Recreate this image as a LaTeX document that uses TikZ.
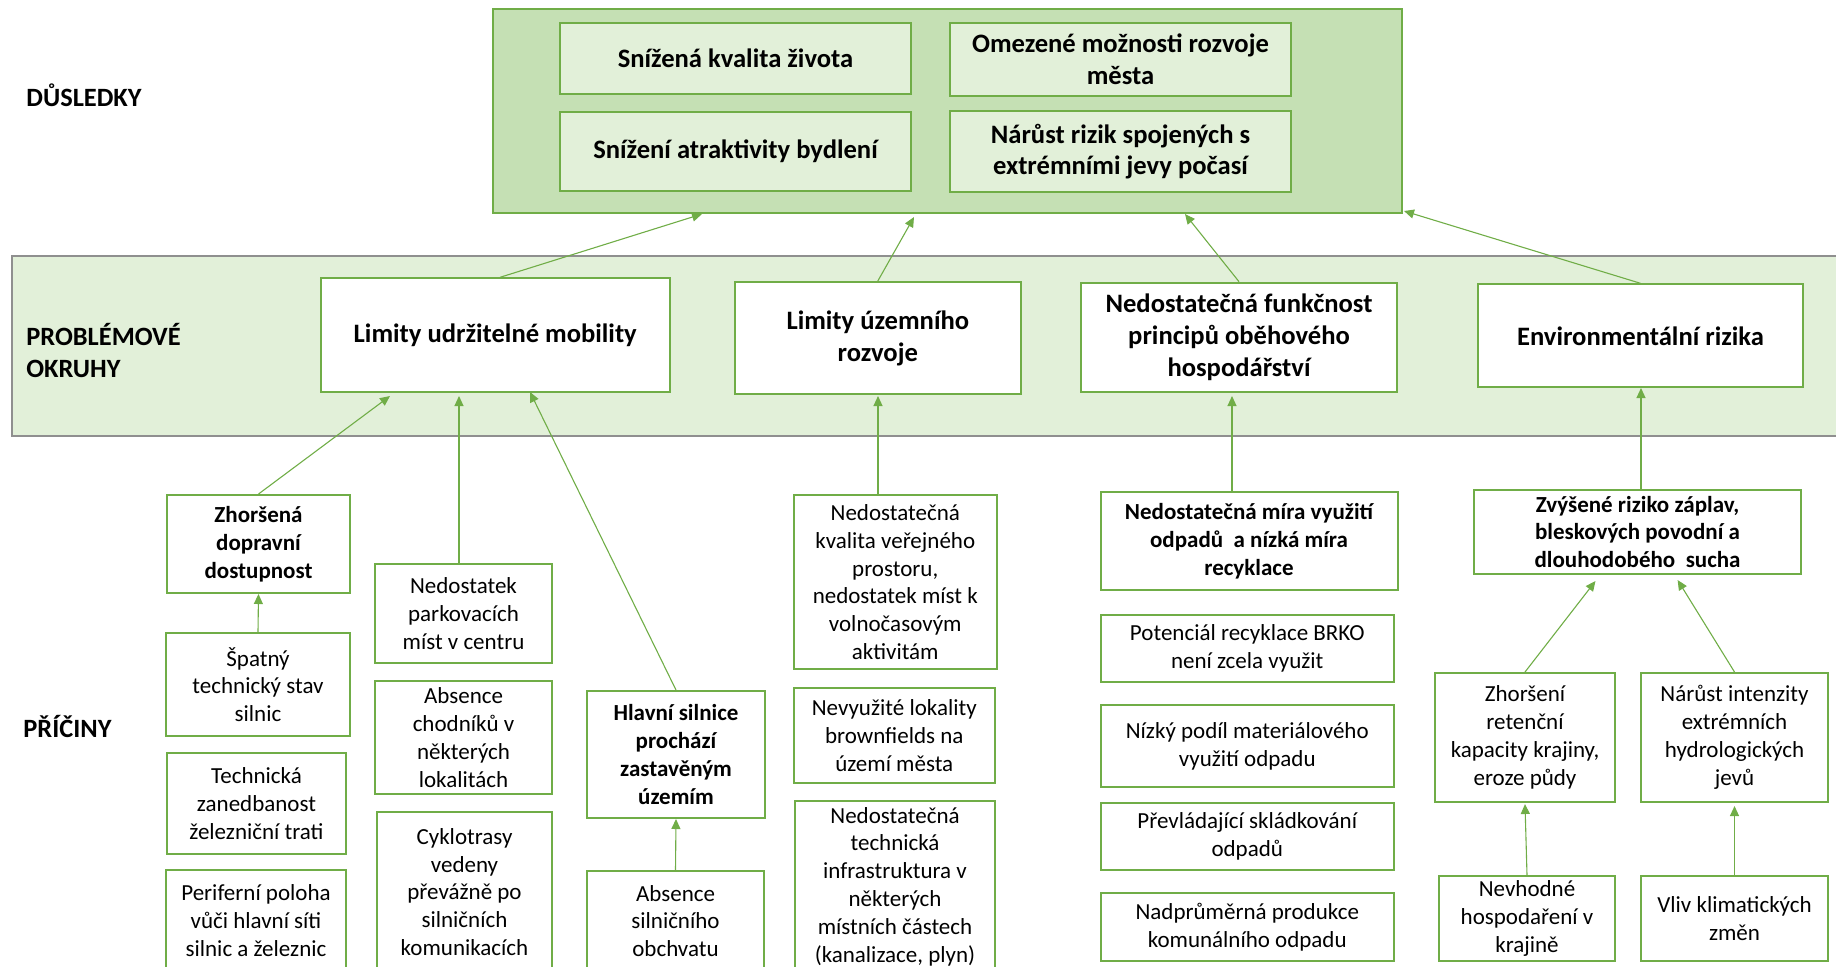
\documentclass[tikz,border=0pt]{standalone}
\usepackage{fontspec}
\setmainfont{Carlito}
\usetikzlibrary{arrows.meta,calc}
\definecolor{grn}{HTML}{70AD47}
\definecolor{dfill}{HTML}{C5E0B4}
\definecolor{lfill}{HTML}{E2F0D9}
\definecolor{bandgray}{HTML}{8F8F8F}
\newcommand\bx[7]{%
  \node[#1, minimum width={(#5-#3)*0.5pt}, minimum height={(#6-#4)*0.5pt}] (#2) at ({(#3+#5)/2},{(#4+#6)/2}) {#7};}
\tikzset{
  topbox/.style={draw=grn, fill=lfill, line width=1pt, inner sep=0pt, align=center, font=\fontsize{13.3}{15.8}\selectfont\bfseries},
  probbox/.style={draw=grn, fill=white, line width=1pt, inner sep=0pt, align=center, font=\fontsize{13.3}{16.1}\selectfont\bfseries},
  causebox/.style={draw=grn, fill=white, line width=1pt, inner sep=0pt, align=center, font=\fontsize{11.5}{13.9}\selectfont},
  causebold/.style={causebox, font=\fontsize{11.5}{13.9}\selectfont\bfseries},
  lbl/.style={anchor=west, inner sep=0pt, align=left, font=\fontsize{13.2}{16}\selectfont\bfseries},
  arr/.style={draw=grn, line width=0.55pt, -{Triangle[length=5pt,width=4.5pt]}}
}
\begin{document}
\begin{tikzpicture}[x=0.5pt,y=-0.5pt]
\useasboundingbox (0,0) rectangle (1836,966);
\clip (0,0) rectangle (1836,966);
% background panels
\path[draw=bandgray, fill=lfill, line width=1pt] (11.7,256) rectangle (1850,435.7);
\node[draw=grn, fill=dfill, line width=1pt, inner sep=0pt, minimum width={(1401.5-493)*0.5pt}, minimum height={(213.3-9.3)*0.5pt}] (dus) at ({(493+1401.5)/2},{(9.3+213.3)/2}) {};
% labels
\node[lbl] (l1) at (26,95) {DŮSLEDKY};
\node[lbl] (l2) at (26,350) {PROBLÉMOVÉ\\OKRUHY};
\node[lbl] (l3) at (23,726) {PŘÍČINY};
% consequences
\bx{topbox}{c1}{560}{22.7}{911}{94}{Snížená kvalita života}
\bx{topbox}{c2}{950}{22.7}{1291}{95.7}{Omezené možnosti rozvoje\\města}
\bx{topbox}{c3}{560}{112}{911}{191.3}{Snížení atraktivity bydlení}
\bx{topbox}{c4}{950}{110.7}{1291}{192.3}{Nárůst rizik spojených s\\extrémními jevy počasí}
% problem areas
\bx{probbox}{mob}{321}{278.3}{669.5}{391.7}{Limity udržitelné mobility}
\bx{probbox}{uzem}{734.6}{282}{1021}{394.3}{Limity územního\\rozvoje}
\bx{probbox}{funk}{1081}{282.7}{1397}{391.7}{Nedostatečná funkčnost\\principů oběhového\\hospodářství}
\bx{probbox}{env}{1478}{284.3}{1803}{387.3}{Environmentální rizika}
% causes - mobility
\bx{causebold}{zhors}{167}{495}{350}{593}{Zhoršená\\dopravní\\dostupnost}
\bx{causebox}{spat}{166}{633}{350}{736}{Špatný\\technický stav\\silnic}
\bx{causebox}{tech}{167}{753}{346}{854}{Technická\\zanedbanost\\železniční trati}
\bx{causebox}{perif}{166}{870}{346}{971}{Periferní poloha\\vůči hlavní síti\\silnic a železnic}
\bx{causebox}{park}{375}{564}{552}{663}{Nedostatek\\parkovacích\\míst v centru}
\bx{causebox}{chod}{375}{681}{552}{794}{Absence\\chodníků v\\některých\\lokalitách}
\bx{causebox}{cykl}{377}{812}{552}{972}{Cyklotrasy\\vedeny\\převážně po\\silničních\\komunikacích}
\bx{causebold}{hlav}{587}{691}{765}{818}{Hlavní silnice\\prochází\\zastavěným\\územím}
\bx{causebox}{absil}{587}{871}{764}{971}{Absence\\silničního\\obchvatu}
% causes - territorial
\bx{causebox}{kval}{793.5}{495}{997}{669}{Nedostatečná\\kvalita veřejného\\prostoru,\\nedostatek míst k\\volnočasovým\\aktivitám}
\bx{causebox}{nevy}{793.5}{688}{995}{783}{Nevyužité lokality\\brownfields na\\území města}
\bx{causebox}{tinf}{795}{801}{995}{972}{Nedostatečná\\technická\\infrastruktura v\\některých\\místních částech\\(kanalizace, plyn)}
% causes - circular economy
\bx{causebold}{mira}{1100.5}{492}{1397.5}{590}{Nedostatečná míra využití\\odpadů \ a nízká míra\\recyklace}
\bx{causebox}{pot}{1100.5}{615}{1394}{682}{Potenciál recyklace BRKO\\není zcela využit}
\bx{causebox}{niz}{1100.5}{705}{1394}{787}{Nízký podíl materiálového\\využití odpadu}
\bx{causebox}{prev}{1100.5}{803}{1394}{870}{Převládající skládkování\\odpadů}
\bx{causebox}{nadp}{1100.5}{893}{1394}{961}{Nadprůměrná produkce\\komunálního odpadu}
% causes - environment
\bx{causebold}{zvys}{1474}{490}{1801}{574}{Zvýšené riziko záplav,\\bleskových povodní a\\dlouhodobého \ sucha}
\bx{causebox}{zret}{1435}{673}{1615}{802}{Zhoršení\\retenční\\kapacity krajiny,\\eroze půdy}
\bx{causebox}{nar}{1641}{673}{1828}{802}{Nárůst intenzity\\extrémních\\hydrologických\\jevů}
\bx{causebox}{nevh}{1439}{876}{1615}{961}{Nevhodné\\hospodaření v\\krajině}
\bx{causebox}{vliv}{1641}{876}{1828}{961}{Vliv klimatických\\změn}
% arrow tips
\coordinate (t1) at (702,214);
\coordinate (t2) at (914,217);
\coordinate (t3) at (1185,214);
\coordinate (t4) at (1404,211);
\coordinate (t5) at (390,396);
\coordinate (t6) at (459,396);
\coordinate (t7) at (530,392);
\coordinate (t8) at (878,396);
\coordinate (t9) at (1232,396);
\coordinate (t10) at (1641,388);
\coordinate (t13) at (1595.5,581);
\coordinate (t14) at (1677.6,580);
% arrows problem -> consequences
\draw[arr] ([xshift=2.4pt]mob.north) -- (t1);
\draw[arr] (uzem.north) -- (t2);
\draw[arr] (funk.north) -- (t3);
\draw[arr] (env.north) -- (t4);
% arrows causes -> problems
\draw[arr] (zhors.north) -- (t5);
\draw[arr] (park.north -| t6) -- (t6);
\draw[arr] (hlav.north) -- (t7);
\draw[arr] (kval.north -| t8) -- (t8);
\draw[arr] (mira.north -| t9) -- (t9);
\draw[arr] (zvys.north -| t10) -- (t10);
% arrows within causes
\draw[arr] (spat.north) -- (zhors.south);
\draw[arr] (absil.north) -- (hlav.south);
\draw[arr] (zret.north) -- (t13);
\draw[arr] (nar.north) -- (t14);
\draw[arr] (nevh.north) -- ([yshift=-0.5pt]zret.south);
\draw[arr] (vliv.north) -- ([yshift=-1.5pt]nar.south);
\end{tikzpicture}
\end{document}
